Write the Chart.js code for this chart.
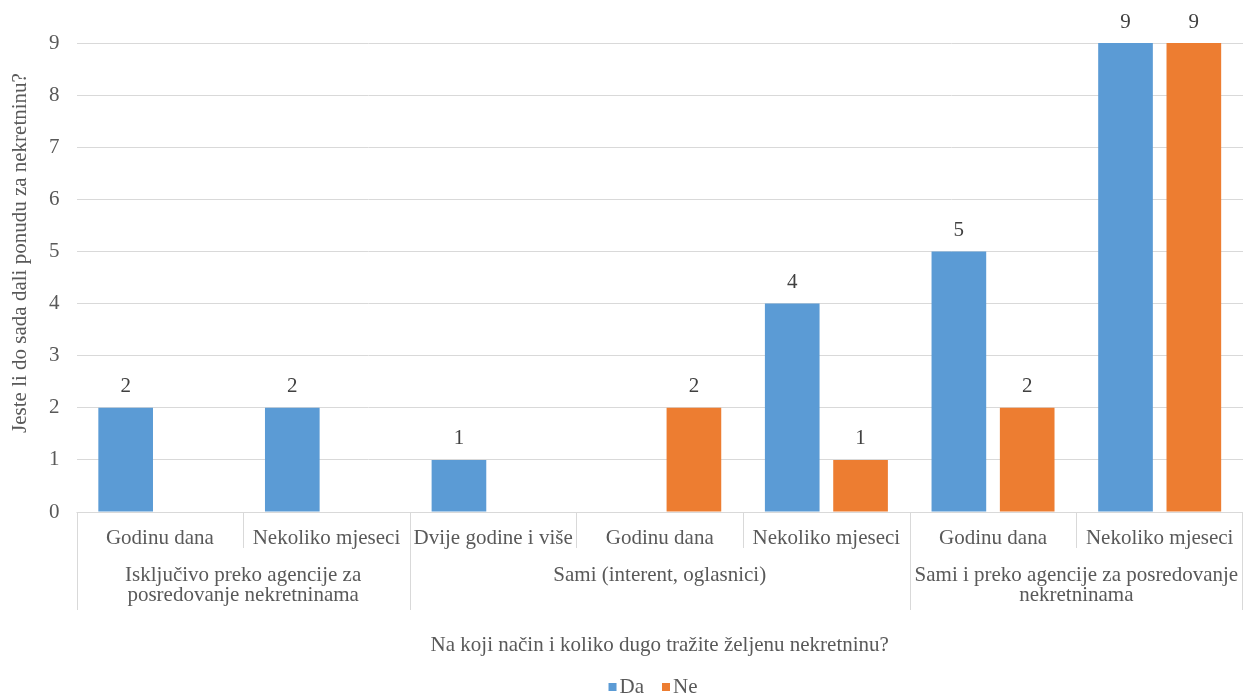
<!DOCTYPE html>
<html>
<head>
<meta charset="utf-8">
<script src="https://cdn.jsdelivr.net/npm/chart.js@4/dist/chart.umd.min.js"></script>
<style>
  html, body { margin:0; padding:0; background:#fff; }
  #wrap { width:1244px; height:697px; }
</style>
</head>
<body>
<div id="wrap"><canvas id="c" width="1244" height="697"></canvas></div>
<script>
// data
const subLabels = ['Godinu dana','Nekoliko mjeseci','Dvije godine i više','Godinu dana','Nekoliko mjeseci','Godinu dana','Nekoliko mjeseci'];
const groupNames = [
  ['Isključivo preko agencije za','posredovanje nekretninama'],
  ['Sami (interent, oglasnici)'],
  ['Sami i preko agencije za posredovanje','nekretninama']
];
const groupSizes = [2, 3, 2];
const daValues = [2, 2, 1, null, 4, 5, 9];
const neValues = [null, null, null, 2, 1, 2, 9];
const yTicks = [0,1,2,3,4,5,6,7,8,9];
const yTitle = 'Jeste li do sada dali ponudu za nekretninu?';
const xTitle = 'Na koji način i koliko dugo tražite željenu nekretninu?';

const TXT = '#595959';
const LINE = '#d9d9d9';
const FONT = "'Liberation Serif', 'Times New Roman', serif";
const FS = 21;

// value labels above the bars
const valueLabels = {
  id:'valueLabels',
  afterDatasetsDraw(chart){
    const ctx = chart.ctx;
    ctx.save();
    ctx.font = FS + 'px ' + FONT;
    ctx.fillStyle = '#404040';
    ctx.textAlign = 'center';
    ctx.textBaseline = 'middle';
    chart.data.datasets.forEach((ds, di)=>{
      const meta = chart.getDatasetMeta(di);
      meta.data.forEach((bar, i)=>{
        const v = ds.data[i];
        if(v == null) return;
        ctx.fillText(String(v), bar.x, bar.y - 21);
      });
    });
    ctx.restore();
  }
};

// multi-level category axis: separators + group names
const groupAxis = {
  id:'groupAxis',
  afterDraw(chart){
    const ctx = chart.ctx;
    const x = chart.scales.x;
    const area = chart.chartArea;
    const y0 = area.bottom;
    const edge = i => {
      if(i <= 0) return area.left;
      if(i >= subLabels.length) return area.right;
      return (x.getPixelForValue(i-1) + x.getPixelForValue(i)) / 2;
    };
    const groupEdges = [0];
    groupSizes.forEach(n => groupEdges.push(groupEdges[groupEdges.length-1] + n));
    ctx.save();
    ctx.strokeStyle = LINE;
    ctx.lineWidth = 1;
    ctx.beginPath();
    ctx.moveTo(area.left, Math.round(y0)+0.5);
    ctx.lineTo(area.right, Math.round(y0)+0.5);
    ctx.stroke();
    for(let i=0;i<=subLabels.length;i++){
      let px = Math.round(edge(i)) + 0.5;
      if(i === subLabels.length) px -= 1;
      const long = groupEdges.includes(i);
      ctx.beginPath();
      ctx.moveTo(px, y0);
      ctx.lineTo(px, y0 + (long ? 98 : 36));
      ctx.stroke();
    }
    ctx.font = FS + 'px ' + FONT;
    ctx.fillStyle = TXT;
    ctx.textAlign = 'center';
    ctx.textBaseline = 'middle';
    groupNames.forEach((lines, g)=>{
      const cx = (edge(groupEdges[g]) + edge(groupEdges[g+1])) / 2;
      lines.forEach((t, k)=>{
        ctx.fillText(t, cx, y0 + 63 + k*20);
      });
    });
    // y axis title (sits a bit above the plot middle, like the original)
    ctx.save();
    ctx.translate(20, 253);
    ctx.rotate(-Math.PI/2);
    ctx.fillText(yTitle, 0, 0);
    ctx.restore();
    ctx.restore();
  }
};

// compact legend under the axis title
const bottomLegend = {
  id:'bottomLegend',
  afterDraw(chart){
    const ctx = chart.ctx;
    ctx.save();
    ctx.font = FS + 'px ' + FONT;
    ctx.textBaseline = 'middle';
    const items = chart.data.datasets.map(ds => ({ text: ds.label, color: ds.backgroundColor }));
    const box = 8, gapBox = 3, gapItem = 18;
    let total = 0;
    items.forEach((it, i) => { total += box + gapBox + ctx.measureText(it.text).width + (i ? gapItem : 0); });
    let px = 653 - total / 2;
    const cy = 687;
    items.forEach((it, i) => {
      if(i) px += gapItem;
      ctx.fillStyle = it.color;
      ctx.fillRect(px, cy - box/2, box, box);
      px += box + gapBox;
      ctx.fillStyle = TXT;
      ctx.textAlign = 'left';
      ctx.fillText(it.text, px, cy);
      px += ctx.measureText(it.text).width;
    });
    ctx.restore();
  }
};

new Chart(document.getElementById('c'), {
  type:'bar',
  data:{
    labels: subLabels,
    datasets:[
      { label:'Da', data: daValues, backgroundColor:'#5b9bd5' },
      { label:'Ne', data: neValues, backgroundColor:'#ed7d31' }
    ]
  },
  options:{
    responsive:false,
    animation:false,
    maintainAspectRatio:false,
    layout:{ padding:{ top:43, right:1, left:32, bottom:0 } },
    datasets:{ bar:{ categoryPercentage:0.82, barPercentage:0.8 } },
    scales:{
      x:{
        grid:{ display:false },
        border:{ display:false },
        ticks:{ color:TXT, font:{ family:FONT, size:FS }, padding:6, maxRotation:0, autoSkip:false },
        title:{ display:true, text:xTitle, color:TXT, font:{ family:FONT, size:FS }, padding:{ top:0, bottom:39 } },
        afterFit(scale){ scale.height = 185; }
      },
      y:{
        min:0, max:9,
        afterBuildTicks(scale){ scale.ticks = yTicks.map(v => ({ value:v })); },
        grid:{ color:LINE, drawTicks:false },
        border:{ display:false },
        ticks:{ color:TXT, font:{ family:FONT, size:FS }, padding:17 }
      }
    },
    plugins:{
      legend:{ display:false },
      tooltip:{ enabled:false }
    }
  },
  plugins:[valueLabels, groupAxis, bottomLegend]
});
</script>
</body>
</html>
